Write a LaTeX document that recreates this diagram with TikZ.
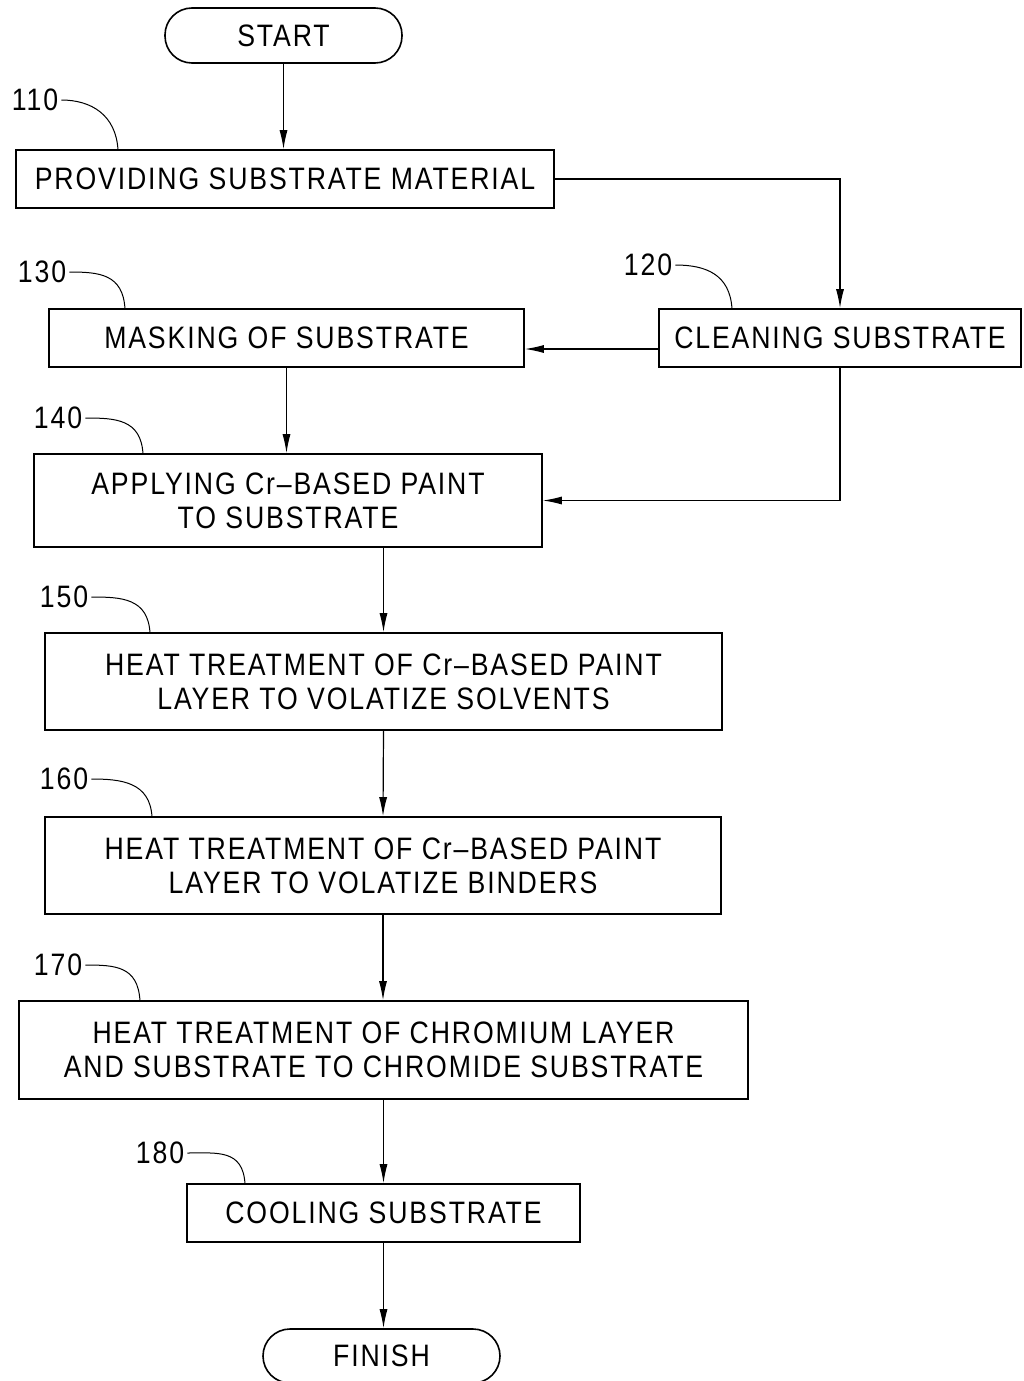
\documentclass[tikz,border=0pt]{standalone}
\usepackage{fontspec}
\setmainfont{Liberation Sans}[FakeStretch=0.86,LetterSpace=6]
\usetikzlibrary{arrows.meta,calc}
\begin{document}
\begin{tikzpicture}[x=1pt,y=-1pt,
  every node/.style={font=\fontsize{31}{34}\selectfont},
  stepbox/.style={draw,line width=1.6pt,rectangle,inner sep=0pt,align=center},
  termbox/.style={draw,line width=1.6pt,rectangle,rounded corners=27pt,inner sep=0pt,align=center,minimum width=237pt,minimum height=55pt},
  arr/.style={line width=1.2pt,-{Latex[length=19pt,width=8pt]}},
  lead/.style={line width=1pt},
  lbl/.style={inner sep=0pt}]
\useasboundingbox (0,0) rectangle (1023,1381);
\node[termbox] (start) at (283.5,35.5) {START};
\node[stepbox,minimum width=538pt,minimum height=58pt] (n110) at (285,179) {PROVIDING SUBSTRATE MATERIAL};
\node[stepbox,minimum width=362pt,minimum height=58pt] (n120) at (840,338) {CLEANING SUBSTRATE};
\node[stepbox,minimum width=475pt,minimum height=58pt] (n130) at (286.5,338) {MASKING OF SUBSTRATE};
\node[stepbox,minimum width=508pt,minimum height=93pt] (n140) at (288,500.5) {APPLYING Cr--BASED PAINT\\TO SUBSTRATE};
\node[stepbox,minimum width=677pt,minimum height=97pt] (n150) at (383.5,681.5) {HEAT TREATMENT OF Cr--BASED PAINT\\LAYER TO VOLATIZE SOLVENTS};
\node[stepbox,minimum width=676pt,minimum height=97pt] (n160) at (383,865.5) {HEAT TREATMENT OF Cr--BASED PAINT\\LAYER TO VOLATIZE BINDERS};
\node[stepbox,minimum width=729pt,minimum height=98pt] (n170) at (383.5,1050) {HEAT TREATMENT OF CHROMIUM LAYER\\AND SUBSTRATE TO CHROMIDE SUBSTRATE};
\node[stepbox,minimum width=393pt,minimum height=58pt] (n180) at (383.5,1213) {COOLING SUBSTRATE};
\node[termbox,minimum height=54pt] (finish) at (381.5,1356) {FINISH};
% reference labels
\node[lbl] (l110) at (35,100) {110};
\node[lbl] (l120) at (648,265) {120};
\node[lbl] (l130) at (42,272) {130};
\node[lbl] (l140) at (58,418) {140};
\node[lbl] (l150) at (64,597) {150};
\node[lbl] (l160) at (64,779) {160};
\node[lbl] (l170) at (58,965) {170};
\node[lbl] (l180) at (160,1153) {180};
\coordinate (t110) at (118,150);
\coordinate (t120) at (732,309);
\coordinate (t130) at (125,309);
\coordinate (t140) at (143,454);
\coordinate (t150) at (150,633);
\coordinate (t160) at (152,817);
\coordinate (t170) at (140,1001);
\coordinate (t180) at (245,1184);
\foreach \n in {110,120,130,140,150,160,170,180}{
  \draw[lead] ([xshift=3pt]l\n.east) .. controls +(30,0) and +(-2,-35) .. (t\n);
}
% connectors
\draw[arr] (start) -- (start |- n110.north);
\draw[arr] (n110.east) -| (n120.north);
\coordinate (a1) at ([yshift=-11pt]n120.west);
\draw[arr] (a1) -- (a1 -| n130.east);
\draw[arr] (n130.south) -- (n130.south |- n140.north);
\draw[arr] (n120.south) |- (n140.east);
\draw[arr] (n150.north |- n140.south) -- (n150.north);
\draw[arr] (n150.south) -- (n160.north);
\draw[arr] (n160.south) -- (n160.south |- n170.north);
\draw[arr] (n170.south) -- (n170.south |- n180.north);
\draw[arr] (n180.south) -- (n180.south |- finish.north);
\end{tikzpicture}
\end{document}
